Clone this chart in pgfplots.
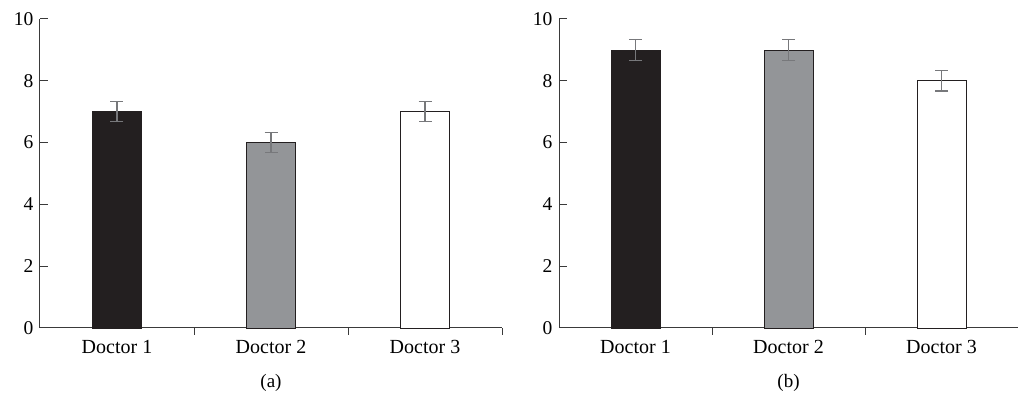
\documentclass[border=0pt]{standalone}
\usepackage{pgfplots}
\pgfplotsset{compat=1.18}
\usepackage{fontspec}
\setmainfont{Liberation Serif}
\definecolor{barblack}{HTML}{231F20}
\definecolor{bargray}{HTML}{939598}
\definecolor{errgray}{HTML}{77787B}
\definecolor{axisc}{HTML}{3A3A3A}
\pgfplotsset{
  docstyle/.style={
    scale only axis, height=309pt,
    anchor=south west,
    xmin=-0.5, xmax=2.5, ymin=0, ymax=10,
    axis lines*=left,
    axis line style={axisc, line width=1pt},
    every tick/.style={axisc, line width=1pt},
    xtick={0,1,2}, xticklabels={Doctor 1, Doctor 2, Doctor 3},
    major x tick style={draw=none},
    minor xtick={0.5,1.5,2.5},
    minor tick length=7pt,
    ytick={0,2,4,6,8,10},
    major tick length=8pt,
    tick align=inside,
    ticklabel style={font=\fontsize{19.5}{22}\selectfont, text=black},
    xticklabel style={font=\fontsize{20}{22}\selectfont, yshift=-1pt},
    /pgf/number format/assume math mode=true,
    yticklabel style={xshift=-3pt},
    ybar, bar width=49pt,
    clip=false,
    error bars/y dir=both, error bars/y explicit,
    error bars/error bar style={errgray, line width=1.1pt},
    error bars/error mark options={rotate=90, mark size=6.5pt, errgray, line width=1.1pt},
    xlabel style={font=\fontsize{19}{22}\selectfont, yshift=-13pt},
  }
}
\begin{document}
\begin{tikzpicture}
\useasboundingbox (0pt,0pt) rectangle (1018pt,403pt);
\begin{axis}[docstyle, at={(40pt,75pt)}, width=462pt, xlabel={(a)}]
\addplot[fill=barblack, draw=barblack, line width=0.6pt, bar shift=0pt] coordinates {(0,7) +- (0,0.33)};
\addplot[fill=bargray, draw=barblack, line width=0.6pt, bar shift=0pt] coordinates {(1,6) +- (0,0.33)};
\addplot[fill=white, draw=barblack, line width=0.6pt, bar shift=0pt] coordinates {(2,7) +- (0,0.33)};
\end{axis}
\begin{axis}[docstyle, at={(559pt,75pt)}, width=459pt, xlabel={(b)}]
\addplot[fill=barblack, draw=barblack, line width=0.6pt, bar shift=0pt] coordinates {(0,9) +- (0,0.33)};
\addplot[fill=bargray, draw=barblack, line width=0.6pt, bar shift=0pt] coordinates {(1,9) +- (0,0.33)};
\addplot[fill=white, draw=barblack, line width=0.6pt, bar shift=0pt] coordinates {(2,8) +- (0,0.33)};
\end{axis}
\end{tikzpicture}
\end{document}
